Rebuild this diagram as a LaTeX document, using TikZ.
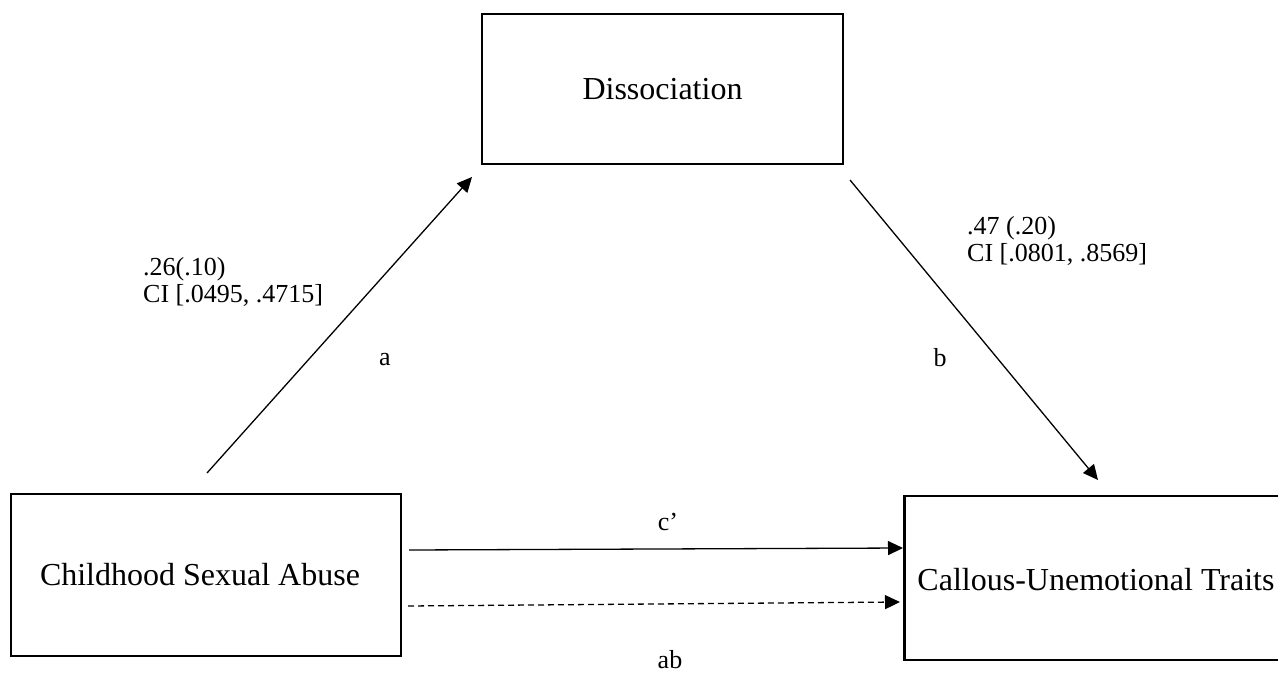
\documentclass[tikz,border=0pt]{standalone}
\usepackage{fontspec}
\setmainfont{Liberation Serif}
\usetikzlibrary{arrows.meta}
\begin{document}
\begin{tikzpicture}[x=1pt,y=-1pt,
  varbox/.style={draw, line width=2.8pt, inner sep=0pt, font=\fontsize{32}{38}\selectfont},
  path/.style={line width=1.3pt, -{Triangle[length=15pt,width=14pt]}},
  lbl/.style={inner sep=0pt, font=\fontsize{26}{27}\selectfont},
  stat/.style={lbl, align=left, anchor=north west}]
\useasboundingbox (0,0) rectangle (1278,675);
\node[varbox, minimum width=361pt, minimum height=150pt] (dis) at (662.5,89) {Dissociation};
\node[varbox, minimum width=390pt, minimum height=162pt] (csa) at (206,575) {Childhood Sexual Abuse\hspace*{12pt}};
\begin{scope}
\clip (0,0) rectangle (1278,675);
\node[varbox, minimum width=390pt, minimum height=164pt, anchor=west] (cut) at (903,578) {};
\end{scope}
\node[font=\fontsize{32}{38}\selectfont, inner sep=0pt] (cutt) at (1096,580) {Callous-Unemotional Traits};
\coordinate (a0) at (207,473);
\coordinate (a1) at (472,177);
\coordinate (b0) at (850,180);
\coordinate (b1) at (1098,480);
\coordinate (c0) at (409,550);
\coordinate (c1) at (cut.west |- 0,548);
\coordinate (d0) at (408,606);
\coordinate (d1) at (900,602);
\draw[path] (a0) -- (a1);
\draw[path] (b0) -- (b1);
\draw[path] (c0) -- (c1);
\draw[path, dash pattern=on 6pt off 4pt] (d0) -- (d1);
\node[stat] (sa) at (143,257) {.26(.10)\\CI [.0495, .4715]};
\node[stat] (sb) at (967,216) {.47 (.20)\\CI [.0801, .8569]};
\node[lbl] (la) at (385,360) {a};
\node[lbl] (lb) at (940,358) {b};
\node[lbl] (lc) at (668,522) {c’};
\node[lbl] (lab) at (670,660) {ab};
\end{tikzpicture}
\end{document}
